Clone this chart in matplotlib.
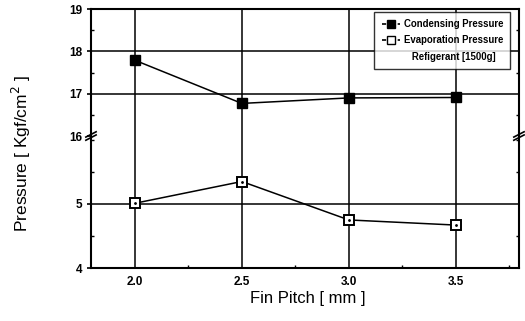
import matplotlib
matplotlib.use("Agg")
import matplotlib.pyplot as plt
from matplotlib.ticker import MultipleLocator
from matplotlib.lines import Line2D

plt.rcParams['font.family'] = ['Liberation Sans', 'DejaVu Sans']

# data
fin_pitch = [2.0, 2.5, 3.0, 3.5]
condensing = [17.79, 16.77, 16.90, 16.91]
evaporation = [5.01, 5.35, 4.75, 4.67]

x_ticks = [2.0, 2.5, 3.0, 3.5]
upper_ticks = [16, 17, 18, 19]
lower_ticks = [4, 5]

fig = plt.figure(figsize=(5.25, 3.21), dpi=100)
ax_top = fig.add_axes([0.1733, 0.5763, 0.8152, 0.3956])
ax_bot = fig.add_axes([0.1733, 0.1651, 0.8152, 0.4112], sharex=ax_top)

for ax in (ax_top, ax_bot):
    ax.set_xlim(1.795, 3.795)
    ax.set_xticks(x_ticks)
    ax.xaxis.set_minor_locator(MultipleLocator(0.25))
    ax.yaxis.set_minor_locator(MultipleLocator(0.5))
    ax.grid(True, which='major', color='black', linewidth=1.1)
    ax.set_axisbelow(True)
    for s in ax.spines.values():
        s.set_linewidth(1.5)
    ax.tick_params(which='major', direction='out', length=3, width=1.2,
                   labelsize=8.5)
    ax.tick_params(which='minor', direction='in', length=2.5, width=1.0,
                   right=True)

ax_top.set_ylim(16, 19)
ax_top.set_yticks(upper_ticks)
ax_top.spines['bottom'].set_visible(False)
ax_top.tick_params(axis='x', which='both', bottom=False, labelbottom=False)
ax_top.get_ygridlines()[0].set_visible(False)

ax_bot.set_ylim(4, 6.06)
ax_bot.set_yticks(lower_ticks)
ax_bot.spines['top'].set_visible(False)
ax_bot.tick_params(axis='x', which='major', length=0, pad=6)

for lab in ax_top.get_yticklabels() + ax_bot.get_yticklabels() + ax_bot.get_xticklabels():
    lab.set_fontweight('bold')

ax_top.plot(fin_pitch, condensing, color='black', linewidth=1.1,
            marker='s', markersize=7, markerfacecolor='black',
            markeredgecolor='black', zorder=3)
ax_bot.plot(fin_pitch, evaporation, color='black', linewidth=1.1,
            marker='s', markersize=7, markerfacecolor='white',
            markeredgecolor='black', markeredgewidth=1.4, zorder=3)
ax_bot.plot(fin_pitch, evaporation, linestyle='none', marker='.',
            markersize=2, color='black', zorder=4)

# axis break marks
for xa in (0.0, 1.0):
    for dy in (-0.012, 0.012):
        ax_bot.plot([xa - 0.012, xa + 0.012], [1 + dy - 0.02, 1 + dy + 0.02],
                    transform=ax_bot.transAxes, color='black', linewidth=1.2,
                    clip_on=False, zorder=5)

handles = [
    Line2D([], [], color='black', marker='s', markersize=6, linestyle='--',
           dashes=(2.5, 2.2), linewidth=1.2),
    Line2D([], [], color='black', marker='s', markersize=6, markerfacecolor='white',
           linestyle='--', dashes=(2.5, 2.2), linewidth=1.2),
    Line2D([], [], linestyle='none'),
]
labels = ['Condensing Pressure', 'Evaporation Pressure', '   Refigerant [1500g]']
leg = ax_top.legend(handles, labels, loc='upper right',
                    prop={'weight': 'bold', 'size': 6.9}, frameon=True,
                    fancybox=False, edgecolor='black', handlelength=1.9,
                    handletextpad=0.4, borderpad=0.75, labelspacing=0.65,
                    borderaxespad=0, bbox_to_anchor=(0.98, 0.976))
leg.get_frame().set_linewidth(1.0)
leg.set_zorder(10)

fig.text(308 / 525, 1 - 298 / 321, 'Fin Pitch [ mm ]', ha='center', va='center',
         fontsize=12)
fig.text(21 / 525, 1 - 154 / 321, 'Pressure [ Kgf/cm$^2$ ]', ha='center',
         va='center', rotation=90, fontsize=12.5)

fig.savefig('out.png', dpi=100)
